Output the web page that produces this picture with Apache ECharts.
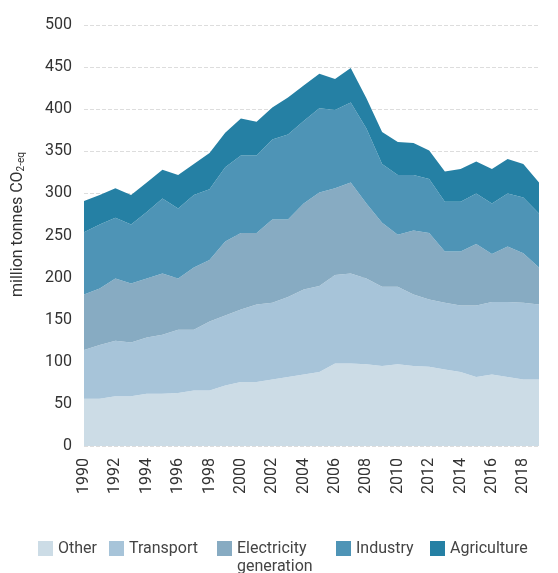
<!DOCTYPE html>
<html>
<head>
<meta charset="utf-8">
<script src="https://cdn.jsdelivr.net/npm/echarts@6/dist/echarts.min.js"></script>
<style>
  html, body { margin: 0; padding: 0; background: #fff; }
  #chart { width: 558px; height: 573px; }
</style>
</head>
<body>
<div id="chart"></div>
<script>
var years = [];
for (var y = 1990; y <= 2019; y++) years.push(String(y));

var other       = [56, 56, 59, 59, 62, 62, 63, 66, 66, 72, 76, 76, 79, 82, 85, 88, 98, 98, 97, 95, 97, 95, 94, 91, 88, 82, 85, 82, 79, 79];
var transport   = [58, 64, 66, 64, 67, 70, 75, 72, 82, 83, 86, 92, 91, 95, 101, 102, 105, 107, 102, 94, 92, 85, 80, 79, 79, 85, 86, 89, 91, 89];
var electricity = [66, 67, 74, 70, 70, 73, 61, 74, 73, 88, 91, 85, 99, 92, 102, 111, 103, 108, 89, 76, 62, 76, 79, 61, 64, 73, 57, 66, 59, 44];
var industry    = [74, 76, 72, 70, 79, 89, 83, 86, 84, 88, 92, 92, 95, 101, 98, 100, 93, 95, 89, 70, 71, 66, 64, 59, 59, 60, 60, 63, 66, 64];
var agriculture = [37, 35, 35, 35, 35, 34, 40, 37, 43, 41, 44, 40, 38, 44, 42, 41, 37, 41, 36, 38, 39, 38, 34, 36, 39, 38, 41, 41, 40, 37];

var names  = ['Other', 'Transport', 'Electricity generation', 'Industry', 'Agriculture'];
var values = [other, transport, electricity, industry, agriculture];
var colors = ['#ccdce6', '#a7c4d9', '#87abc2', '#4e94b6', '#2580a4'];
var legendLeft = [38, 109, 217, 336, 430];

var myChart = echarts.init(document.getElementById('chart'));

var series = [];
var legends = [];
for (var i = 0; i < names.length; i++) {
  var twoLines = names[i] === 'Electricity generation';
  series.push({
    name: names[i],
    type: 'line',
    stack: 'total',
    symbol: 'none',
    lineStyle: { width: 0 },
    areaStyle: { color: colors[i], opacity: 1 },
    itemStyle: { color: colors[i] },
    data: values[i]
  });
  legends.push({
    data: [names[i]],
    left: legendLeft[i],
    top: twoLines ? 521.5 : 539.5,
    itemWidth: 15,
    itemHeight: 15,
    itemGap: 0,
    padding: 0,
    icon: 'rect',
    textStyle: { color: '#444', fontSize: 16, fontFamily: 'Roboto', lineHeight: 18 },
    // empty first line keeps "Electricity" level with the swatch
    formatter: function (n) { return n === 'Electricity generation' ? ' \nElectricity\ngeneration' : n; }
  });
}

var option = {
  animation: false,
  legend: legends,
  grid: { left: 84, right: 19, top: 25, bottom: 127, containLabel: false, outerBoundsMode: 'none' },
  xAxis: {
    type: 'category',
    boundaryGap: false,
    data: years,
    axisLine: { show: false },
    axisTick: { show: false },
    axisLabel: {
      interval: 1,
      rotate: 90,
      margin: 12,
      color: '#333',
      fontSize: 16,
      fontFamily: 'Roboto'
    }
  },
  yAxis: {
    type: 'value',
    min: 0,
    max: 500,
    interval: 50,
    name: 'million tonnes CO{sub|2-eq}',
    nameLocation: 'middle',
    nameGap: 58,
    nameTextStyle: {
      color: '#333',
      fontSize: 16,
      fontFamily: 'Roboto',
      padding: [0, 0, 0, 22],
      rich: { sub: { fontSize: 10, fontFamily: 'Roboto', color: '#333', verticalAlign: 'bottom', padding: [7, 0, 0, 0] } }
    },
    axisLine: { show: false },
    axisTick: { show: false },
    axisLabel: { margin: 12, color: '#333', fontSize: 16, fontFamily: 'Roboto' },
    splitLine: { lineStyle: { color: '#ddd', type: 'dashed' } }
  },
  series: series
};

myChart.setOption(option);
window.onresize = myChart.resize;
</script>
</body>
</html>
